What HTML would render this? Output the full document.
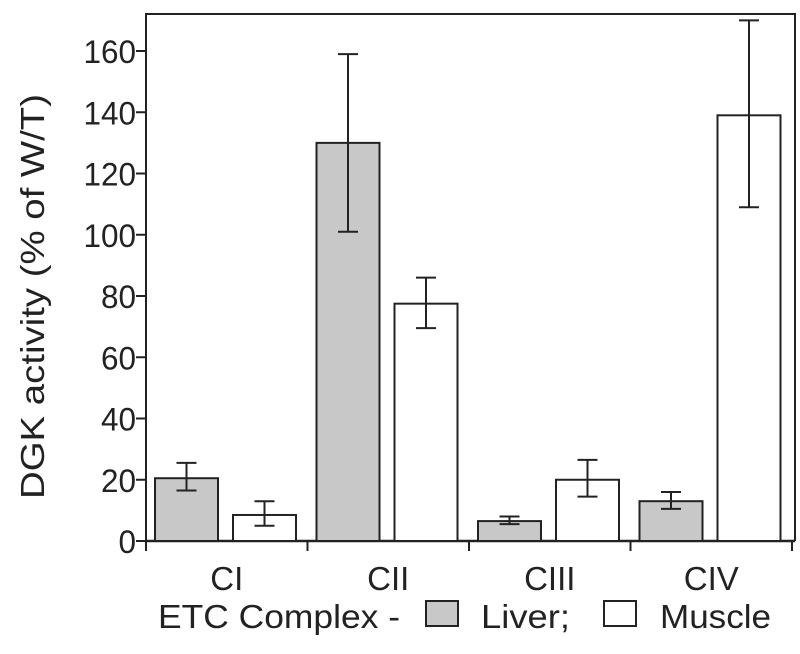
<!DOCTYPE html>
<html><head><meta charset="utf-8"><style>
body{margin:0;background:#fff;}
svg text{font-family:"Liberation Sans",Arial,sans-serif;fill:#222;}
</style></head><body>
<svg id="chart" width="800" height="649">
<g id="g"></g>
</svg>
<script>
const categories=["CI","CII","CIII","CIV"];
const liverValues=[20.5,130,6.5,13];
const liverLow=[16.5,101,5.5,10.5];
const liverHigh=[25.5,159,8,16];
const muscleValues=[8.5,77.5,20,139];
const muscleLow=[5,69.5,14.5,109];
const muscleHigh=[13,86,26.5,170];
const yTicks=[0,20,40,60,80,100,120,140,160];

const NS="http://www.w3.org/2000/svg";
const g=document.getElementById('g');
const x0=146,x1=792,yBase=541,pxPerUnit=3.0625;
const y=v=>yBase-v*pxPerUnit;
const groupW=(x1-x0)/categories.length;
function mk(tag,attrs,parent){const e=document.createElementNS(NS,tag);for(const k in attrs)e.setAttribute(k,attrs[k]);(parent||g).appendChild(e);return e;}

const frame=mk('path',{d:`M${x0},${yBase} V14 H795 V${yBase}`,fill:'none',stroke:'#222','stroke-width':2});


const xAxis=mk('line',{x1:x0,x2:795,y1:yBase,y2:yBase,stroke:'#222','stroke-width':2.5});



yTicks.forEach(t=>{
  const l=mk('line',{x1:x0-10,x2:x0,y1:y(t),y2:y(t),stroke:'#222','stroke-width':2});
  
  
  const s=String(t);
  const tx=mk('text',{x:x0-10,y:y(t)+12,'text-anchor':'end','font-size':32,textLength:17.5*s.length,lengthAdjust:'spacingAndGlyphs'});
  tx.textContent=s;
  
  
});

for(let i=0;i<=categories.length;i++){
  const xx=x0+i*groupW;
  const l=mk('line',{x1:xx,x2:xx,y1:yBase,y2:yBase+10,stroke:'#222','stroke-width':2});
  
  
}

const barW=63;
function bar(v,lo,hi,bx,fill,name){
  const r=mk('rect',{x:bx,y:y(v),width:barW,height:yBase-y(v),fill:fill,stroke:'#222','stroke-width':2});
  
  
  const cx=bx+barW/2;
  const e=mk('path',{d:`M${cx},${y(lo)} V${y(hi)} M${cx-10},${y(lo)} H${cx+10} M${cx-10},${y(hi)} H${cx+10}`,stroke:'#222','stroke-width':2,fill:'none'});
  
  
}
categories.forEach((c,i)=>{
  const gx=x0+i*groupW;
  bar(liverValues[i],liverLow[i],liverHigh[i],gx+9,'#c8c8c8','bar-liver-'+c.toLowerCase());
  bar(muscleValues[i],muscleLow[i],muscleHigh[i],gx+87,'#fff','bar-muscle-'+c.toLowerCase());
  const t=mk('text',{x:gx+groupW/2,y:590,'text-anchor':'middle','font-size':33});
  t.textContent=c;
  
  
});

const yt=mk('text',{x:0,y:0,'text-anchor':'middle','font-size':33,textLength:405,lengthAdjust:'spacingAndGlyphs',transform:`translate(44,${(14+yBase)/2+19}) rotate(-90)`});
yt.textContent='DGK activity (% of W/T)';


</script>
<svg style="position:absolute;left:0;top:0" width="800" height="649">
<text x="158" y="628" font-size="33" textLength="242" lengthAdjust="spacingAndGlyphs">ETC Complex -</text>
<rect x="426" y="601" width="32" height="25" fill="#c8c8c8" stroke="#222" stroke-width="2"/>
<text x="481" y="628" font-size="33" textLength="89" lengthAdjust="spacingAndGlyphs">Liver;</text>
<rect x="604" y="601" width="32" height="25" fill="#fff" stroke="#222" stroke-width="2"/>
<text x="660" y="628" font-size="33" textLength="111" lengthAdjust="spacingAndGlyphs">Muscle</text>
</svg>
</body></html>
